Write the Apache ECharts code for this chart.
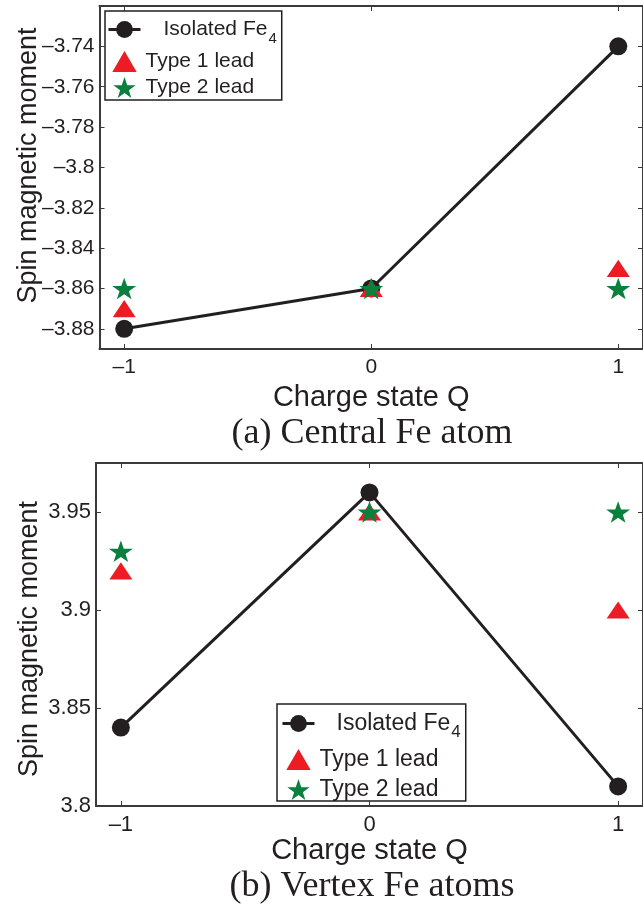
<!DOCTYPE html>
<html>
<head>
<meta charset="utf-8">
<script src="https://cdn.jsdelivr.net/npm/echarts@6/dist/echarts.min.js"></script>
<style>
  html, body { margin: 0; padding: 0; background: #fff; }
  #chart { width: 643px; height: 911px; }
</style>
</head>
<body>
<div id="chart"></div>
<script>
// Charge states Q on the horizontal axis
const chargeStates = [-1, 0, 1];

// (a) Central Fe atom: spin magnetic moment
const centralIsolated = [-3.88, -3.86, -3.74];
const centralType1 = [-3.87, -3.86, -3.85];
const centralType2 = [-3.86, -3.86, -3.86];

// (b) Vertex Fe atoms: spin magnetic moment
const vertexIsolated = [3.84, 3.96, 3.81];
const vertexType1 = [3.92, 3.95, 3.90];
const vertexType2 = [3.93, 3.95, 3.95];

// Tick values
const qTicks = [-1, 0, 1];
const centralTicks = [-3.88, -3.86, -3.84, -3.82, -3.80, -3.78, -3.76, -3.74];
const vertexTicks = [3.80, 3.85, 3.90, 3.95];

// Series names
const seriesNames = ['Isolated Fe', 'Type 1 lead', 'Type 2 lead'];

const FONT = '"Liberation Sans", Arial, Helvetica, sans-serif';
const INK = '#231f20';
const FRAME = '#3a3a3a';
const RED = '#ed1c24';
const GREEN = '#0b7f3d';
const STAR = 'path://M50,0 L61.8,35.1 L98.1,35.1 L68.8,56.7 L79.4,90.5 L50,69.1 L20.6,90.5 L31.2,56.7 L1.9,35.1 L38.2,35.1 Z';
const TRIANGLE = 'path://M50,0 L100,86 L0,86 Z';

function fmtTick(v) {
  const s = String(Number(Math.abs(v).toFixed(2)));
  return (v < 0 ? '\u2013' : '') + s;
}

function pairs(ys) {
  return chargeStates.map((q, i) => [q, ys[i]]);
}

function xAxes(gridIndex, fontSize, nameGap) {
  const base = {
    type: 'value', gridIndex, min: -1.1, max: 1.1,
    splitLine: { show: false },
    axisLine: { show: true, onZero: false, lineStyle: { color: FRAME, width: 2 } },
    axisTick: { show: true, inside: true, length: 5, customValues: qTicks, lineStyle: { color: FRAME, width: 1 } }
  };
  return [
    Object.assign({}, base, {
      position: 'bottom',
      name: 'Charge state Q', nameLocation: 'middle', nameGap,
      nameTextStyle: { fontFamily: FONT, fontSize: 29, color: INK },
      axisLabel: { show: true, customValues: qTicks, formatter: fmtTick, margin: 8,
        fontFamily: FONT, fontSize, color: INK }
    }),
    Object.assign({}, base, { position: 'top', axisLabel: { show: false } })
  ];
}

function yAxes(gridIndex, min, max, ticks, fontSize, nameGap, namePad) {
  const base = {
    type: 'value', gridIndex, min, max, scale: true,
    splitLine: { show: false },
    axisLine: { show: true, onZero: false, lineStyle: { color: FRAME, width: 2 } },
    axisTick: { show: true, inside: true, length: 5, customValues: ticks, lineStyle: { color: FRAME, width: 1 } }
  };
  return [
    Object.assign({}, base, {
      position: 'left',
      name: 'Spin magnetic moment', nameLocation: 'middle', nameGap, nameRotate: 90,
      nameMoveOverlap: false,
      nameTextStyle: { fontFamily: FONT, fontSize: 27, color: INK, padding: namePad },
      axisLabel: { show: true, customValues: ticks, formatter: fmtTick, margin: 5,
        fontFamily: FONT, fontSize, color: INK }
    }),
    Object.assign({}, base, { position: 'right', axisLabel: { show: false } })
  ];
}

function seriesFor(idx, isolated, t1, t2) {
  return [
    {
      name: seriesNames[0], type: 'line', xAxisIndex: idx * 2, yAxisIndex: idx * 2,
      data: pairs(isolated), symbol: 'circle', symbolSize: 18,
      lineStyle: { color: INK, width: 3 }, itemStyle: { color: INK },
      z: 2
    },
    {
      name: seriesNames[1], type: 'scatter', xAxisIndex: idx * 2, yAxisIndex: idx * 2,
      data: pairs(t1), symbol: TRIANGLE, symbolSize: [23, 20], symbolKeepAspect: true,
      itemStyle: { color: RED, opacity: 1 }, z: 3
    },
    {
      name: seriesNames[2], type: 'scatter', xAxisIndex: idx * 2, yAxisIndex: idx * 2,
      data: pairs(t2), symbol: STAR, symbolSize: [24, 23], symbolKeepAspect: true,
      itemStyle: { color: GREEN, opacity: 1 }, z: 4
    }
  ];
}

function legendFor(left, top, fontSize, subPad, lead, pad, gap) {
  return {
    left, top, orient: 'vertical',
    data: seriesNames,
    padding: pad, itemGap: gap,
    itemWidth: 32, itemHeight: 21,
    backgroundColor: '#fff', borderColor: INK, borderWidth: 1.5, borderRadius: 0,
    selectedMode: false,
    lineStyle: { width: 3, color: INK },
    formatter: name => name === seriesNames[0] ? '{n|' + name + '}{s|4}' : name,
    textStyle: {
      fontFamily: FONT, fontSize, color: INK,
      rich: {
        n: { fontFamily: FONT, fontSize, color: INK, padding: [0, 0, 0, lead], verticalAlign: 'middle' },
        s: { fontFamily: FONT, fontSize: fontSize - 6, color: INK, padding: [subPad, 0, 0, 1] }
      }
    }
  };
}

const chart = echarts.init(document.getElementById('chart'), null, { renderer: 'canvas' });

chart.setOption({
  animation: false,
  backgroundColor: '#fff',
  grid: [
    { left: 99.5, top: 6, width: 545.5, height: 343 },
    { left: 96, top: 463, width: 549.5, height: 343 }
  ],
  xAxis: [].concat(xAxes(0, 21, 34), xAxes(1, 22, 28)),
  yAxis: [].concat(
    yAxes(0, -3.89, -3.72, centralTicks, 21, 57, [0, 0, 0, 24]),
    yAxes(1, 3.80, 3.975, vertexTicks, 22, 53, [0, 9, 0, 0])
  ),
  legend: [
    legendFor(105, 11, 21, 18, 18, [8, 5, 2, 2], 5),
    legendFor(277, 704, 23, 18, 17, [8, 5, 0, 4], 7)
  ],
  series: [].concat(
    seriesFor(0, centralIsolated, centralType1, centralType2),
    seriesFor(1, vertexIsolated, vertexType1, vertexType2)
  ),
  graphic: [
    { type: 'text', style: { x: 372, y: 434, text: '(a) Central Fe atom', align: 'center', verticalAlign: 'middle',
        font: '36px "Liberation Serif", "Times New Roman", serif', fill: INK } },
    { type: 'text', style: { x: 372, y: 887, text: '(b) Vertex Fe atoms', align: 'center', verticalAlign: 'middle',
        font: '36px "Liberation Serif", "Times New Roman", serif', fill: INK } }
  ]
});
</script>
</body>
</html>
